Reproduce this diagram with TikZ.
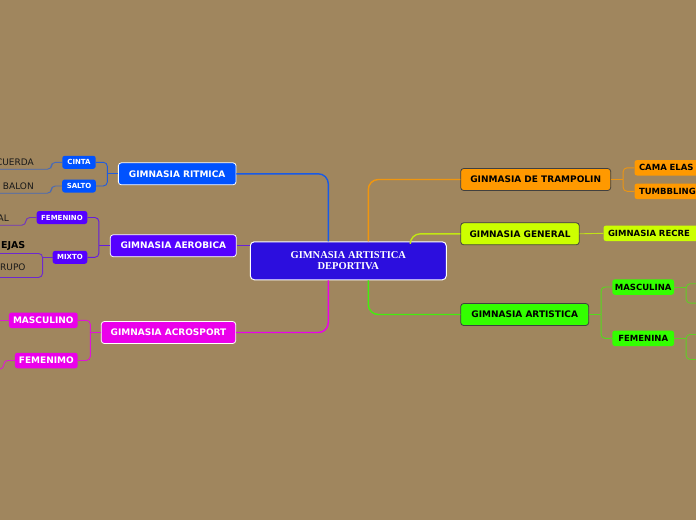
\documentclass[tikz,border=0pt]{standalone}
\usepackage{fontspec}
\setmainfont{DejaVu Sans}
\newfontfamily\rootfont{Liberation Serif}
\usetikzlibrary{positioning}
\definecolor{paper}{RGB}{160,134,94}
\definecolor{cRoot}{RGB}{44,14,222}
\definecolor{cRit}{RGB}{0,82,255}
\definecolor{cAer}{RGB}{85,0,255}
\definecolor{cAcro}{RGB}{235,0,235}
\definecolor{cTramp}{RGB}{255,153,0}
\definecolor{cGen}{RGB}{204,255,0}
\definecolor{cArt}{RGB}{51,255,0}
\tikzset{
  root/.style={draw=white, line width=1pt, fill=cRoot, rounded corners=4pt,
    minimum width=196pt, minimum height=38pt, text=white, align=center,
    font=\rootfont\bfseries\fontsize{10.5}{10.5}\selectfont},
  topic/.style={rounded corners=3pt, line width=0.8pt, minimum height=22pt,
    inner sep=2pt, font=\bfseries\fontsize{9}{10}\selectfont},
  light topic/.style={topic, draw=white, text=white},
  dark topic/.style={topic, draw=black!75, text=black},
  subtopic/.style={rounded corners=2.5pt, inner sep=1.5pt, minimum height=13pt,
    text=white, font=\bfseries\fontsize{7}{8}\selectfont},
  big subtopic/.style={rounded corners=2.5pt, inner sep=1.5pt, minimum height=15.5pt,
    text=white, font=\bfseries\fontsize{9}{10}\selectfont},
  right subtopic/.style={rounded corners=2.5pt, inner xsep=4.5pt, inner ysep=1.5pt,
    minimum height=15.5pt, text=black, font=\bfseries\fontsize{8.5}{9.5}\selectfont},
  leaf/.style={inner xsep=1pt, inner ysep=4pt, text height=6pt, text depth=0pt,
    text=black!90, font=\fontsize{9}{10}\selectfont},
  link/.style={line width=1.4pt, rounded corners=10pt},
  sublink/.style={line width=0.9pt, rounded corners=4pt},
}

\begin{document}
\begin{tikzpicture}[x=1pt, y=-1pt]
  % Background
  \fill[paper] (0,0) rectangle (696,520);
  \useasboundingbox (0,0) rectangle (696,520);

  % Central topic
  \node[root] (root) at (348.3,260.8) {GIMNASIA ARTISTICA\\DEPORTIVA};

  % Main topics, left
  \node[light topic, fill=cRit, minimum width=117.7pt] (ritmica) at (177.2,173.8) {GIMNASIA RITMICA};
  \node[light topic, fill=cAer, minimum width=126pt] (aerobica) at (173.3,245.7) {GIMNASIA AEROBICA};
  \node[light topic, fill=cAcro, minimum width=134.4pt] (acrosport) at (168.5,332.5) {GIMNASIA ACROSPORT};

  % Main topics, right
  \node[dark topic, fill=cTramp, minimum width=150pt] (trampolin) at (535.7,179.5) {GINMASIA DE TRAMPOLIN};
  \node[dark topic, fill=cGen, minimum width=118.6pt] (general) at (520,233.8) {GIMNASIA GENERAL};
  \node[dark topic, fill=cArt, minimum width=128pt] (artistica) at (524.7,314.5) {GIMNASIA ARTISTICA};

  % Links from the central topic
  \draw[link, cRit!85!paper] ([xshift=-20pt]root.north) |- (ritmica.east);
  \draw[link, cAer!75!paper] (root.west |- aerobica) -- (aerobica.east);
  \draw[link, cAcro] ([xshift=-20pt]root.south) |- (acrosport.east);
  \draw[link, cTramp!85!paper] ([xshift=20pt]root.north) |- (trampolin.west);
  \draw[link, cGen!80!paper] ([xshift=62pt]root.north) |- (general.west);
  \draw[link, cArt!85!paper] ([xshift=20pt]root.south) |- (artistica.west);

  % Ritmica
  \node[subtopic, fill=cRit, minimum width=33.4pt] (cinta) at (79,162.3) {CINTA};
  \node[subtopic, fill=cRit, minimum width=33.7pt] (salto) at (79,186) {SALTO};
  \node[leaf, anchor=east] (cuerda) at (35,162) {CUERDA};
  \node[leaf, anchor=east] (balon) at (35,186) {BALON};
  \draw[sublink, cRit!80!paper] (ritmica.west) -- ++(-10.6,0);
  \draw[sublink, cRit!80!paper] (cinta.east) -| ([xshift=-10.6pt]ritmica.west);
  \draw[sublink, cRit!80!paper] (salto.east) -| ([xshift=-10.6pt]ritmica.west);
  \draw[sublink, cRit!55!paper] (cinta.west) -- ++(-10.6,0) |- ([xshift=-10pt]cuerda.south west);
  \draw[sublink, cRit!55!paper] (salto.west) -- ++(-10.6,0) |- ([xshift=-10pt]balon.south west);

  % Aerobica
  \node[subtopic, fill=cAer, minimum width=50.6pt] (femenino) at (62,217.5) {FEMENINO};
  \node[subtopic, fill=cAer, minimum width=34.6pt] (mixto) at (70,257.3) {MIXTO};
  \node[leaf, anchor=east] (al) at (10,218) {AL};
  \node[leaf, anchor=east, font=\bfseries\fontsize{9.5}{10}\selectfont, text=black] (ejas) at (26.5,245) {EJAS};
  \node[draw=cAer!70!paper, line width=0.9pt, rounded corners=4pt, anchor=north east,
    minimum height=24pt, text width=60pt, align=right, inner xsep=17pt,
    text height=11pt, text depth=0pt, text=black!90, font=\fontsize{9}{10}\selectfont]
    (rupo) at (43,253) {RUPO};
  \draw[sublink, cAer!80!paper] (aerobica.west) -- ++(-11,0);
  \draw[sublink, cAer!80!paper] (femenino.east) -| ([xshift=-11pt]aerobica.west);
  \draw[sublink, cAer!80!paper] (mixto.east) -| ([xshift=-11pt]aerobica.west);
  \draw[sublink, cAer!60!paper] (femenino.west) -- ++(-10.7,0) |- ([xshift=-10pt]al.south west);
  \draw[sublink, cAer!70!paper] (mixto.west) -- (mixto.west -| rupo.east);

  % Acrosport
  \node[big subtopic, fill=cAcro, minimum width=68.7pt] (masculino) at (43.3,320.3) {MASCULINO};
  \node[big subtopic, fill=cAcro, minimum width=62.7pt] (femenimo) at (46.3,360.5) {FEMENIMO};
  \coordinate (masculino tail) at (-5,320.3);
  \coordinate (femenimo tail) at (-5,369);
  \draw[sublink, cAcro!85!paper] (acrosport.west) -- ++(-10.6,0);
  \draw[sublink, cAcro!85!paper] (masculino.east) -| ([xshift=-10.6pt]acrosport.west);
  \draw[sublink, cAcro!85!paper] (femenimo.east) -| ([xshift=-10.6pt]acrosport.west);
  \draw[sublink, cAcro!80!paper] (masculino.west) -- (masculino tail);
  \draw[sublink, cAcro!80!paper] (femenimo.west) -- ++(-11,0) |- (femenimo tail);

  % Trampolin
  \node[right subtopic, fill=cTramp, anchor=west, text width=70pt, align=left] (cama) at (634.3,167.8) {CAMA ELAS};
  \node[right subtopic, fill=cTramp, anchor=west, text width=70pt, align=left] (tumbbling) at (634.3,191.3) {TUMBBLING};
  \draw[sublink, cTramp!80!paper] (trampolin.east) -- ++(12,0);
  \draw[sublink, cTramp!80!paper] (cama.west) -| ([xshift=12pt]trampolin.east);
  \draw[sublink, cTramp!80!paper] (tumbbling.west) -| ([xshift=12pt]trampolin.east);

  % General
  \node[right subtopic, fill=cGen, anchor=west, text width=100pt, align=left] (recre) at (603.3,233.3) {GIMNASIA RECRE};
  \draw[sublink, cGen!75!paper] (general.east) -- (recre.west);

  % Artistica
  \node[right subtopic, fill=cArt, minimum width=61.7pt, inner xsep=1.5pt] (masculina) at (643.2,287) {MASCULINA};
  \node[right subtopic, fill=cArt, minimum width=61.7pt, inner xsep=1.5pt] (femenina) at (643.2,338.3) {FEMENINA};
  \node[draw=cArt!60!paper, line width=0.9pt, rounded corners=4pt, anchor=north west,
    minimum width=40pt, minimum height=19.4pt] (masculina box) at (685.7,283.3) {};
  \node[draw=cArt!60!paper, line width=0.9pt, rounded corners=4pt, anchor=north west,
    minimum width=40pt, minimum height=25pt] (femenina box) at (685.7,334) {};
  \draw[sublink, cArt!70!paper] (artistica.east) -- ++(12,0);
  \draw[sublink, cArt!70!paper] (masculina.west) -| ([xshift=12pt]artistica.east);
  \draw[sublink, cArt!70!paper] (femenina.west) -| ([xshift=12pt]artistica.east);
  \draw[sublink, cArt!60!paper] (masculina.east) -- (masculina.east -| masculina box.west);
  \draw[sublink, cArt!60!paper] (femenina.east) -- (femenina.east -| femenina box.west);
\end{tikzpicture}
\end{document}
